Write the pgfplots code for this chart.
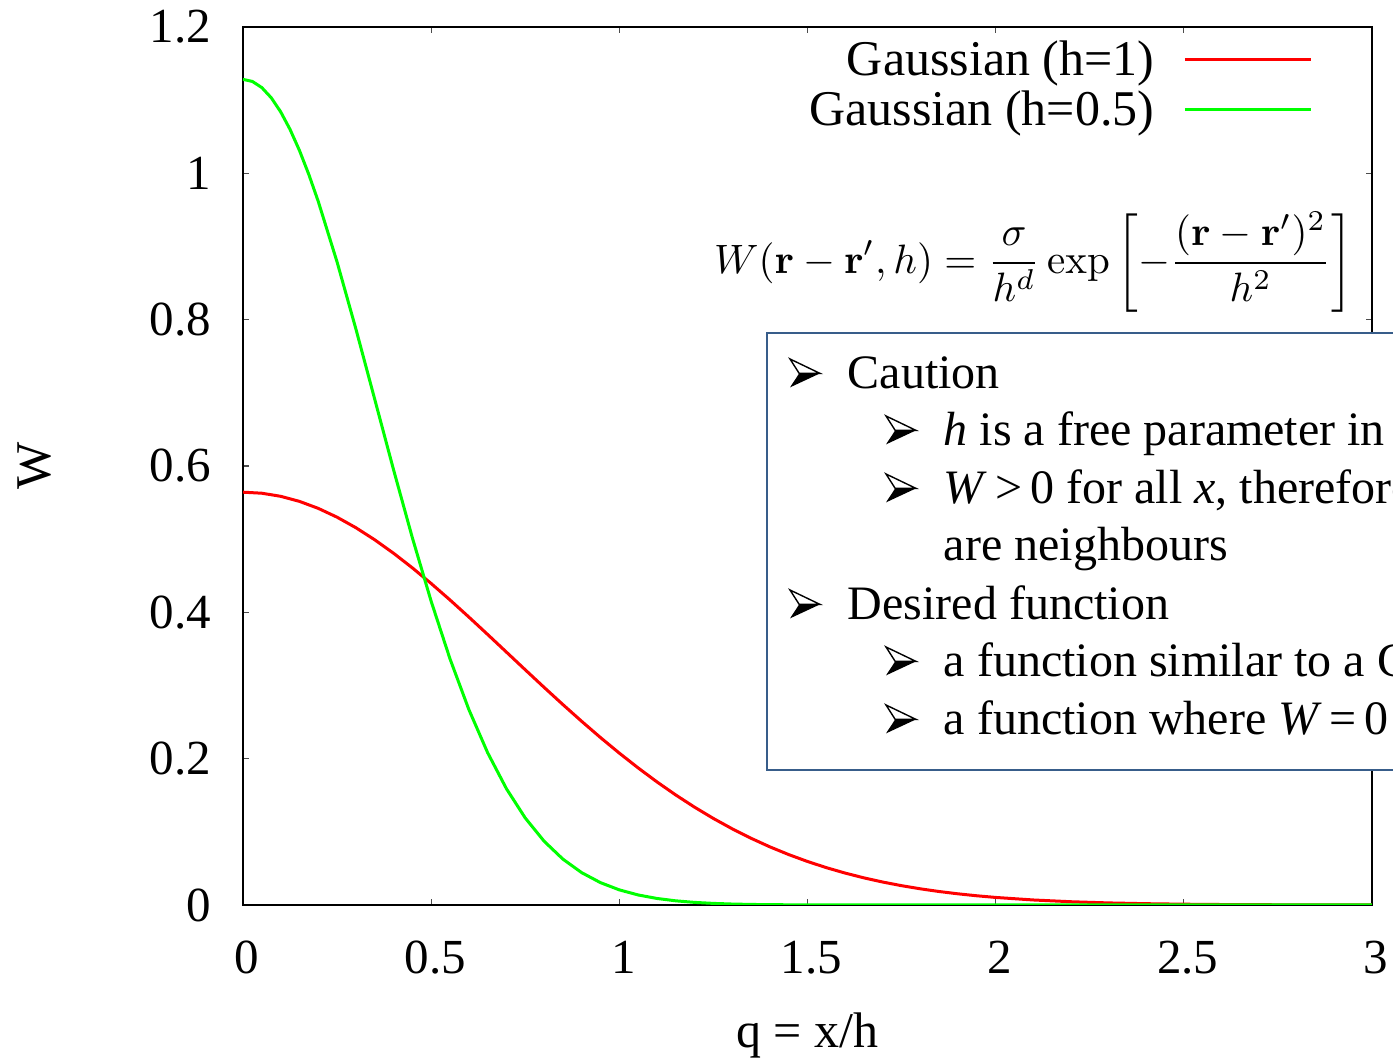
\documentclass[border=0pt]{standalone}
\usepackage[no-math]{fontspec}
\setmainfont{Liberation Serif}
\usepackage{pgfplots}
\pgfplotsset{compat=1.18}
\definecolor{boxblue}{RGB}{56,93,138}
\definecolor{gpred}{RGB}{255,0,0}
\definecolor{gpgreen}{RGB}{0,255,0}
% 3-D arrowhead bullet drawn with TikZ; #1 = x, #2 = baseline y
\newcommand{\bul}[2]{%
  \begin{scope}[shift={(#1,#2)}]
    \fill[black] (0pt,0.4pt) -- (7.5pt,3.9pt) -- (2.3pt,3.9pt) -- cycle;
    \draw[black, line width=0.35pt, line join=miter] (0pt,7.5pt) -- (7.5pt,3.9pt) -- (2.3pt,3.9pt) -- cycle;
  \end{scope}}
\begin{document}
\begin{tikzpicture}
\begin{axis}[
  scale only axis, width=282.25pt, height=219.5pt,
  xmin=0, xmax=3, ymin=0, ymax=1.2,
  xtick={0,0.5,1,1.5,2,2.5,3},
  ytick={0,0.2,0.4,0.6,0.8,1,1.2},
  tick align=inside, major tick length=1.5pt,
  tick style={line width=0.3pt, color=black!70},
  axis line style={line width=0.4pt},
  /pgf/number format/assume math mode=true,
  ticklabel style={font=\fontsize{12.25}{14}\selectfont},
  xticklabel style={anchor=north, inner sep=0pt, yshift=-8.75pt, xshift=1pt},
  yticklabel style={anchor=east, inner sep=0pt, xshift=-7.75pt},
  xlabel={q = x/h}, ylabel={W},
  label style={font=\fontsize{12.5}{15}\selectfont},
  xlabel style={at={(axis description cs:0.5,-0.16287)}, anchor=base, inner sep=0pt},
  ylabel style={at={(axis description cs:-0.18423,0.5)}, anchor=center, inner sep=0pt},
  legend plot pos=right,
  legend cell align=right,
  legend style={draw=none, fill=none, at={(axis description cs:0.9478,0.9863)}, anchor=north east,
    inner sep=0pt, row sep=0pt, font=\fontsize{12.5}{15}\selectfont,
    nodes={inner sep=0pt, text height=9pt, text depth=3.5pt},
    /tikz/every odd column/.append style={column sep=7.25pt}},
  legend image code/.code={\draw[#1] (0pt,1.25pt) -- (31.5pt,1.25pt);},
]
\addplot[gpred, line width=0.75pt] coordinates {
(0,0.5642) (0.05,0.56279) (0.1,0.55858) (0.15,0.55164) (0.2,0.54207) (0.25,0.53001)
(0.3,0.51564) (0.35,0.49915) (0.4,0.48077) (0.45,0.46077) (0.5,0.43940) (0.55,0.41693)
(0.6,0.39363) (0.65,0.36978) (0.7,0.34564) (0.75,0.32147) (0.8,0.29750) (0.85,0.27394)
(0.9,0.25099) (0.95,0.22881) (1.0,0.20756) (1.05,0.18735) (1.1,0.16824) (1.15,0.15034)
(1.2,0.13367) (1.25,0.11826) (1.3,0.10411) (1.35,0.09119) (1.4,0.07947) (1.45,0.06892)
(1.5,0.05947) (1.55,0.05106) (1.6,0.04362) (1.65,0.03707) (1.7,0.03136) (1.75,0.02639)
(1.8,0.02210) (1.85,0.01841) (1.9,0.01526) (1.95,0.01259) (2.0,0.01033) (2.1,0.00686)
(2.2,0.00446) (2.3,0.00284) (2.4,0.00178) (2.5,0.00109) (2.6,0.00065) (2.7,0.00039)
(2.8,0.00022) (2.9,0.00013) (3.0,0.00007)
};
\addlegendentry{Gaussian (h=1)}
\addplot[gpgreen, line width=0.75pt] coordinates {
(0,1.1284) (0.025,1.12558) (0.05,1.11717) (0.075,1.10329) (0.1,1.08415) (0.125,1.06003) (0.15,1.03128)
(0.175,0.99830) (0.2,0.96156) (0.25,0.87880)
(0.3,0.78726) (0.35,0.69129) (0.4,0.59500) (0.45,0.50198) (0.5,0.41512) (0.55,0.33649)
(0.6,0.26735) (0.65,0.20821) (0.7,0.15894) (0.75,0.11893) (0.8,0.08723) (0.85,0.06271)
(0.9,0.04419) (0.95,0.03053) (1.0,0.02067) (1.05,0.01372) (1.1,0.00892) (1.15,0.00569)
(1.2,0.00356) (1.25,0.00218) (1.3,0.00131) (1.35,0.00077) (1.4,0.00044) (1.5,0.00014)
(1.6,0.00004) (1.8,0) (2.0,0) (2.5,0) (3.0,0)
};
\addlegendentry{Gaussian (h=0.5)}
\end{axis}
% formula
\node[inner sep=0pt, scale=1.026, transform shape] at (197.6pt,160.75pt) {\fontsize{10}{12}\selectfont
  $\displaystyle W(\mathbf{r}-\mathbf{r}',h) = \frac{\sigma}{h^d}\exp\left[-\frac{(\mathbf{r}-\mathbf{r}')^2}{h^2}\right]$};
% text box
\draw[boxblue, line width=0.6pt, fill=white] (131pt,33.75pt) rectangle (330pt,143pt);
\bul{136.75pt}{129pt}
\bul{160.75pt}{114.75pt}
\bul{160.75pt}{100.25pt}
\bul{136.75pt}{71.25pt}
\bul{160.75pt}{57pt}
\bul{160.75pt}{42.5pt}
\begin{scope}[every node/.style={anchor=base west, inner sep=0pt, font=\fontsize{12}{14}\selectfont}]
\node at (151pt,129pt) {Caution};
\node at (175pt,114.75pt) {\textit{h} is a free parameter in SPH};
\node at (175pt,100.25pt) {\textit{W}\,>\,0 for all \textit{x}, therefore all particles};
\node at (175pt,86pt) {are neighbours};
\node at (151pt,71.25pt) {Desired function};
\node at (175pt,57pt) {a function similar to a Gaussian};
\node at (175pt,42.5pt) {a function where \textit{W}\,=\,0 for \textit{q}\,>\,2};
\end{scope}
\pgfresetboundingbox
\useasboundingbox (-60.75pt,-38.5pt) rectangle (287.5pt,226.25pt);
\end{tikzpicture}
\end{document}
